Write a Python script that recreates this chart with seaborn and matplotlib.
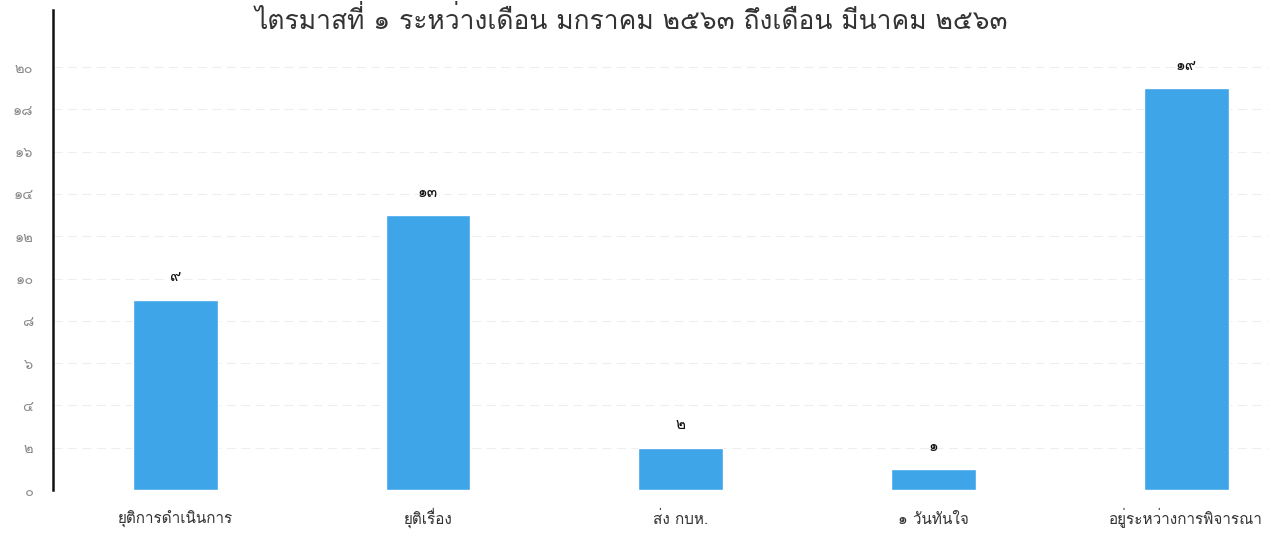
import matplotlib
matplotlib.use("Agg")
import matplotlib.pyplot as plt
import seaborn as sns
import pandas as pd
from matplotlib import font_manager
from matplotlib import transforms

# ---- data ----
categories = ["ยุติการดำเนินการ", "ยุติเรื่อง", "ส่ง กบห.", "๑ วันทันใจ", "อยู่ระหว่างการพิจารณา"]
values = [9, 13, 2, 1, 19]
value_labels = ["๙", "๑๓", "๒", "๑", "๑๙"]
y_ticks = [0, 2, 4, 6, 8, 10, 12, 14, 16, 18, 20]
y_tick_labels = ["๐", "๒", "๔", "๖", "๘", "๑๐", "๑๒", "๑๔", "๑๖", "๑๘", "๒๐"]
title = "ไตรมาสที่ ๑ ระหว่างเดือน มกราคม ๒๕๖๓ ถึงเดือน มีนาคม ๒๕๖๓"

# ---- find a font with Thai glyphs ----
thai_family = None
try:
    from fontTools.ttLib import TTFont
    for f in font_manager.fontManager.ttflist:
        try:
            tt = TTFont(f.fname, fontNumber=0, lazy=True)
            cmap = tt.getBestCmap()
            if cmap and 0x0E01 in cmap and 0x0E51 in cmap:
                thai_family = f.name
                break
        except Exception:
            pass
except Exception:
    pass

sns.set_theme(style="white")
families = ([thai_family] if thai_family else []) + ["DejaVu Sans"]
plt.rcParams["font.family"] = families

df = pd.DataFrame({"category": categories, "value": values})

fig = plt.figure(figsize=(12.68, 5.33), dpi=100)
ax = fig.add_axes([53 / 1268, 43 / 533, 1 - 53 / 1268, (490 - 10) / 533])

sns.barplot(data=df, x="category", y="value", color="#3DA5E8", saturation=1,
            width=0.336, ax=ax)

ax.set_xlim(-0.484, 4.324)
ax.set_ylim(0, 22.7)
ax.set_yticks(y_ticks)
ax.set_yticklabels(y_tick_labels, color="#8a8a8a", fontsize=10.5)
ax.tick_params(axis="y", length=0, pad=14)
ax.set_xticklabels([])
ax.tick_params(axis="x", length=0)
ax.set_xlabel("")
ax.set_ylabel("")

trans = transforms.blended_transform_factory(ax.transData, ax.transAxes)
for i, cat in enumerate(categories):
    ax.text(i, -34 / 480, cat, transform=trans, ha="center", va="baseline",
            fontsize=11, color="#333333")

for g in y_ticks[1:]:
    ax.axhline(g, color="#eeeeee", lw=0.8, ls=(0, (8, 5)), zorder=0)

for s in ["top", "right", "bottom"]:
    ax.spines[s].set_visible(False)
ax.spines["left"].set_color("#111111")
ax.spines["left"].set_linewidth(1.8)

ax.bar_label(ax.containers[0], labels=value_labels, padding=11, fontsize=11, color="#111111")

fig.text(0.498, 1 - 29 / 533, title, ha="center", va="baseline", fontsize=19,
         color="#333333", fontweight="light")

fig.savefig("out.png", dpi=100)
